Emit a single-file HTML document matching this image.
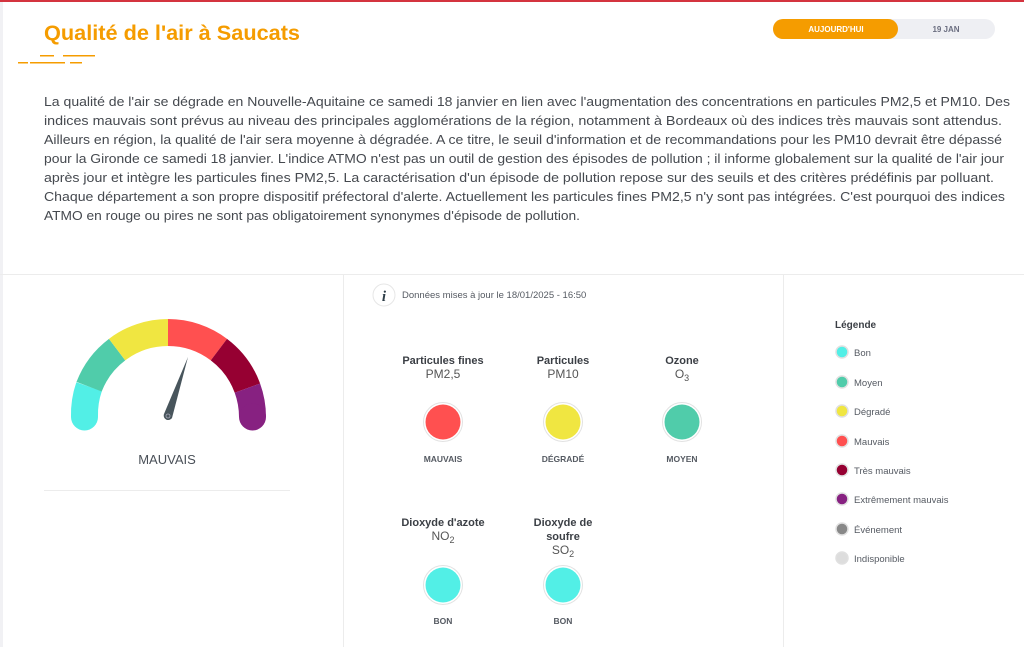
<!DOCTYPE html>
<html><head><meta charset="utf-8"><style>
html,body{margin:0;padding:0;background:#fff;}
svg{display:block;font-family:"Liberation Sans",sans-serif;}
</style></head><body>
<svg width="1024" height="647" viewBox="0 0 1024 647" xmlns="http://www.w3.org/2000/svg">
<rect width="1024" height="647" fill="#fff"/>
<rect x="0" y="0" width="1024" height="2" fill="#d4343f"/>
<rect x="0" y="2" width="3" height="645" fill="#f1f1f4"/>
<text x="44" y="40" font-size="21" font-weight="bold" fill="#f59c00" textLength="256" lengthAdjust="spacingAndGlyphs">Qualité de l'air à Saucats</text>
<g fill="#f59c00"><rect x="40" y="55" width="14" height="1.5"/><rect x="63" y="55" width="32" height="1.5"/><rect x="18" y="62" width="10" height="1.5"/><rect x="30" y="62" width="35" height="1.5"/><rect x="70" y="62" width="12" height="1.5"/></g>
<rect x="773" y="19" width="222" height="20" rx="10" fill="#eeeff3"/>
<rect x="773" y="19" width="125" height="20" rx="10" fill="#f59c00"/>
<text x="836" y="32" font-size="8" font-weight="bold" fill="#fff" text-anchor="middle">AUJOURD'HUI</text>
<text x="946" y="32" font-size="8" font-weight="bold" fill="#6b6e80" text-anchor="middle">19 JAN</text>
<g font-size="12.5" fill="#45494f">
<text x="44" y="106" textLength="966" lengthAdjust="spacingAndGlyphs">La qualité de l'air se dégrade en Nouvelle-Aquitaine ce samedi 18 janvier en lien avec l'augmentation des concentrations en particules PM2,5 et PM10. Des</text>
<text x="44" y="125" textLength="958" lengthAdjust="spacingAndGlyphs">indices mauvais sont prévus au niveau des principales agglomérations de la région, notamment à Bordeaux où des indices très mauvais sont attendus.</text>
<text x="44" y="144" textLength="958" lengthAdjust="spacingAndGlyphs">Ailleurs en région, la qualité de l'air sera moyenne à dégradée. A ce titre, le seuil d'information et de recommandations pour les PM10 devrait être dépassé</text>
<text x="44" y="163" textLength="960" lengthAdjust="spacingAndGlyphs">pour la Gironde ce samedi 18 janvier. L'indice ATMO n'est pas un outil de gestion des épisodes de pollution ; il informe globalement sur la qualité de l'air jour</text>
<text x="44" y="182" textLength="950" lengthAdjust="spacingAndGlyphs">après jour et intègre les particules fines PM2,5. La caractérisation d'un épisode de pollution repose sur des seuils et des critères prédéfinis par polluant.</text>
<text x="44" y="201" textLength="961" lengthAdjust="spacingAndGlyphs">Chaque département a son propre dispositif préfectoral d'alerte. Actuellement les particules fines PM2,5 n'y sont pas intégrées. C'est pourquoi des indices</text>
<text x="44" y="220" textLength="536" lengthAdjust="spacingAndGlyphs">ATMO en rouge ou pires ne sont pas obligatoirement synonymes d'épisode de pollution.</text>
</g>
<rect x="0" y="274" width="1024" height="1" fill="#ececec"/>
<rect x="343" y="275" width="1" height="372" fill="#ececec"/>
<rect x="783" y="275" width="1" height="372" fill="#ececec"/>
<g fill="none" stroke-width="27">
<path d="M 84.5 417 A 84.5 84.5 0 0 1 89.1 386.7" stroke="#52efe6"/>
<path d="M 89.1 386.7 A 84.5 84.5 0 0 1 117.1 349.6" stroke="#50ccaa"/>
<path d="M 117.1 349.6 A 84.5 84.5 0 0 1 168 332.5" stroke="#f0e641"/>
<path d="M 168 332.5 A 84.5 84.5 0 0 1 218.9 349.6" stroke="#ff5050"/>
<path d="M 218.9 349.6 A 84.5 84.5 0 0 1 247.4 388.1" stroke="#960032"/>
<path d="M 247.4 388.1 A 84.5 84.5 0 0 1 252.5 417" stroke="#872181"/>
</g>
<circle cx="84.5" cy="417" r="13.5" fill="#52efe6"/>
<circle cx="252.5" cy="417" r="13.5" fill="#872181"/>
<path d="M 188 357 L 172 418 A 4.5 4.5 0 0 1 164 414 Z" fill="#48555c"/>
<circle cx="168" cy="416" r="2" fill="none" stroke="#aab" stroke-width="0.8"/>
<text x="167" y="464" font-size="13" fill="#4a5058" text-anchor="middle">MAUVAIS</text>
<rect x="44" y="490" width="246" height="1" fill="#ececec"/>
<circle cx="384" cy="295" r="11" fill="#fff" stroke="#e6e6e6"/>
<text x="384" y="301" font-size="15" font-weight="bold" font-style="italic" font-family="Liberation Serif,serif" fill="#2e3e48" text-anchor="middle">i</text>
<text x="402" y="298" font-size="9.5" fill="#555a62">Données mises à jour le 18/01/2025 - 16:50</text>
<g text-anchor="middle" fill="#3b3f45">
<g font-size="11" font-weight="bold"><text x="443" y="364">Particules fines</text><text x="563" y="364">Particules</text><text x="682" y="364">Ozone</text>
<text x="443" y="526">Dioxyde d'azote</text><text x="563" y="526">Dioxyde de</text><text x="563" y="540">soufre</text></g>
<g font-size="12" fill="#555"><text x="443" y="378">PM2,5</text><text x="563" y="378">PM10</text><text x="682" y="378">O<tspan font-size="9" dy="3">3</tspan></text>
<text x="443" y="540">NO<tspan font-size="9" dy="3">2</tspan></text><text x="563" y="554">SO<tspan font-size="9" dy="3">2</tspan></text></g>
<g font-size="8.5" font-weight="bold" fill="#555a62"><text x="443" y="462">MAUVAIS</text><text x="563" y="462">DÉGRADÉ</text><text x="682" y="462">MOYEN</text><text x="443" y="624">BON</text><text x="563" y="624">BON</text></g>
</g>
<g stroke="#e2e2e2" stroke-width="1" fill="#fff">
<circle cx="443" cy="422" r="19.5"/><circle cx="563" cy="422" r="19.5"/><circle cx="682" cy="422" r="19.5"/><circle cx="443" cy="585" r="19.5"/><circle cx="563" cy="585" r="19.5"/>
</g>
<circle cx="443" cy="422" r="17.5" fill="#ff5050"/>
<circle cx="563" cy="422" r="17.5" fill="#f0e641"/>
<circle cx="682" cy="422" r="17.5" fill="#50ccaa"/>
<circle cx="443" cy="585" r="17.5" fill="#52efe6"/>
<circle cx="563" cy="585" r="17.5" fill="#52efe6"/>
<text x="835" y="328" font-size="10" font-weight="bold" fill="#3b3f45">Légende</text>
<g stroke="#e0e0e0" stroke-width="1.5">
<circle cx="842" cy="352" r="6" fill="#52efe6"/>
<circle cx="842" cy="382" r="6" fill="#50ccaa"/>
<circle cx="842" cy="411" r="6" fill="#f0e641"/>
<circle cx="842" cy="441" r="6" fill="#ff5050"/>
<circle cx="842" cy="470" r="6" fill="#960032"/>
<circle cx="842" cy="499" r="6" fill="#872181"/>
<circle cx="842" cy="529" r="6" fill="#888"/>
<circle cx="842" cy="558" r="6" fill="#ddd"/>
</g>
<g font-size="9.5" fill="#555a62">
<text x="854" y="356">Bon</text><text x="854" y="386">Moyen</text><text x="854" y="415">Dégradé</text><text x="854" y="445">Mauvais</text><text x="854" y="474">Très mauvais</text><text x="854" y="503">Extrêmement mauvais</text><text x="854" y="533">Événement</text><text x="854" y="562">Indisponible</text>
</g>
</svg>
</body></html>
